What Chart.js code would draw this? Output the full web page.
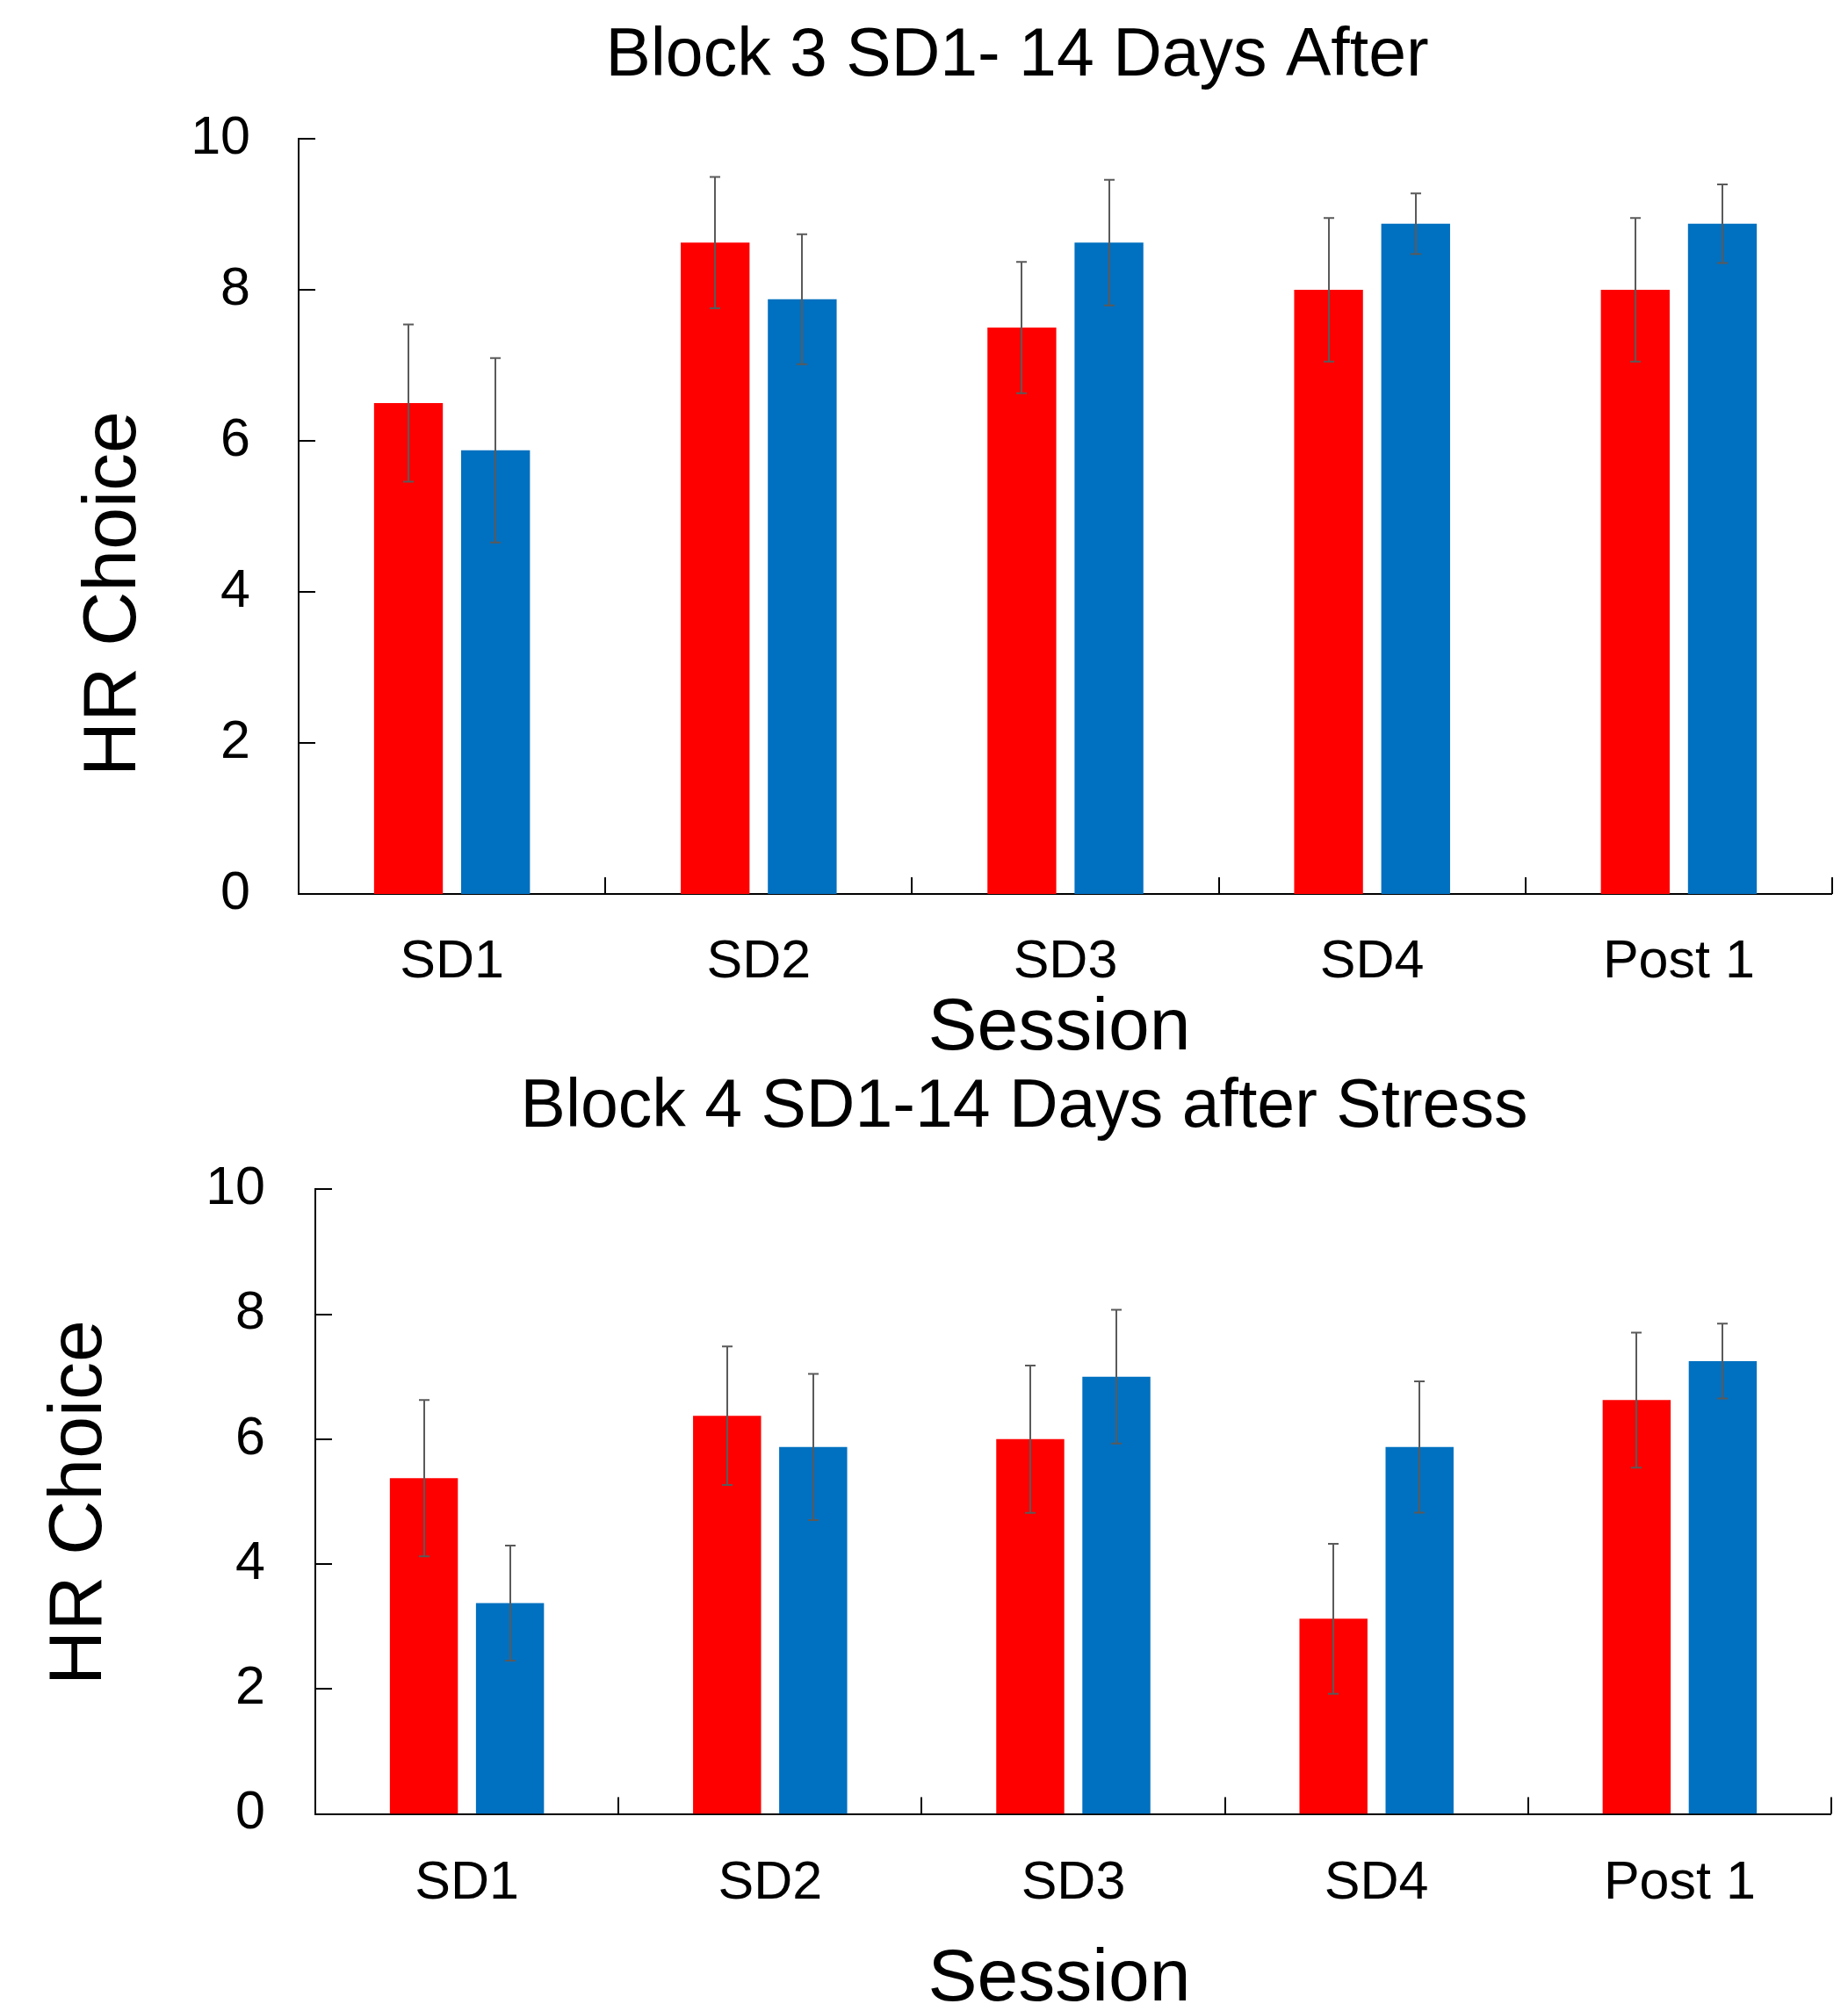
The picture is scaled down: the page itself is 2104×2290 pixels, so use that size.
<!DOCTYPE html>
<html>
<head>
<meta charset="utf-8">
<script src="https://cdn.jsdelivr.net/npm/chart.js@4.4.0/dist/chart.umd.min.js"></script>
<style>
html, body { margin: 0; padding: 0; background: #ffffff; }
#c1 { position: absolute; left: 0; top: 0; }
#c2 { position: absolute; left: 0; top: 1215px; }
</style>
</head>
<body>
<canvas id="c1" width="2104" height="1215"></canvas>
<canvas id="c2" width="2104" height="1075"></canvas>
<script>
// ---- data ----
const categories = ['SD1', 'SD2', 'SD3', 'SD4', 'Post 1'];
const yTickValues = [0, 2, 4, 6, 8, 10];

const block3Title = 'Block 3 SD1- 14 Days After';
const block3Red = [6.5, 8.625, 7.5, 8.0, 8.0];
const block3RedErr = [1.04, 0.87, 0.87, 0.95, 0.95];
const block3Blue = [5.875, 7.875, 8.625, 8.875, 8.875];
const block3BlueErr = [1.22, 0.86, 0.83, 0.40, 0.52];

const block4Title = 'Block 4 SD1-14 Days after Stress';
const block4Red = [5.375, 6.375, 6.0, 3.125, 6.625];
const block4RedErr = [1.25, 1.11, 1.18, 1.20, 1.08];
const block4Blue = [3.375, 5.875, 7.0, 5.875, 7.25];
const block4BlueErr = [0.92, 1.17, 1.07, 1.05, 0.60];

const xTitle = 'Session';
const yTitle = 'HR Choice';

// ---- style ----
const FONT = "'Liberation Sans', Arial, Helvetica, sans-serif";
const RED = '#FF0000';
const BLUE = '#0070C0';
Chart.defaults.font.family = FONT;
Chart.defaults.color = '#000000';

const errorBarPlugin = {
  id: 'errorBars',
  afterDatasetsDraw(chart, args, opts) {
    const ctx = chart.ctx;
    const y = chart.scales.y;
    chart.data.datasets.forEach((ds, di) => {
      const meta = chart.getDatasetMeta(di);
      meta.data.forEach((bar, i) => {
        const v = ds.data[i], e = ds.errors[i];
        const top = y.getPixelForValue(v + e);
        const bot = y.getPixelForValue(v - e);
        const bx = Math.round(bar.x);
        ctx.save();
        ctx.strokeStyle = opts.color;
        ctx.lineWidth = opts.width;
        ctx.beginPath();
        ctx.moveTo(bx, top); ctx.lineTo(bx, bot);
        ctx.moveTo(bx - opts.cap, top); ctx.lineTo(bx + opts.cap, top);
        ctx.moveTo(bx - opts.cap, bot); ctx.lineTo(bx + opts.cap, bot);
        ctx.stroke();
        ctx.restore();
      });
    });
  }
};

const innerTicksPlugin = {
  id: 'innerTicks',
  afterDraw(chart, args, opts) {
    const ctx = chart.ctx;
    const area = chart.chartArea;
    const x = chart.scales.x, y = chart.scales.y;
    ctx.save();
    ctx.strokeStyle = '#000000';
    ctx.lineWidth = opts.width;
    ctx.beginPath();
    y.ticks.forEach(t => {
      const py = Math.round(y.getPixelForValue(t.value));
      ctx.moveTo(area.left, py);
      ctx.lineTo(area.left + opts.length, py);
    });
    const n = x.ticks.length;
    const w = x.width / n;
    for (let i = 1; i <= n; i++) {
      const px = Math.round(x.left + i * w);
      ctx.moveTo(px, area.bottom);
      ctx.lineTo(px, area.bottom - opts.length);
    }
    ctx.stroke();
    ctx.restore();
  }
};

// axis titles drawn as canvas text
const axisTitlesPlugin = {
  id: 'axisTitles',
  afterDraw(chart, args, opts) {
    const ctx = chart.ctx;
    opts.items.forEach(it => {
      ctx.save();
      ctx.translate(it.x, it.y);
      if (it.rotate) ctx.rotate(-Math.PI / 2);
      ctx.font = it.size + 'px ' + FONT;
      ctx.fillStyle = '#000000';
      ctx.textAlign = 'center';
      ctx.textBaseline = 'middle';
      ctx.fillText(it.text, 0, 0);
      ctx.restore();
    });
  }
};

function makeChart(canvasId, title, red, redErr, blue, blueErr, L) {
  return new Chart(document.getElementById(canvasId), {
    type: 'bar',
    data: {
      labels: categories,
      datasets: [
        { data: red, errors: redErr, backgroundColor: RED, borderWidth: 0,
          categoryPercentage: 0.568, barPercentage: 0.79 },
        { data: blue, errors: blueErr, backgroundColor: BLUE, borderWidth: 0,
          categoryPercentage: 0.568, barPercentage: 0.79 }
      ]
    },
    options: {
      responsive: false,
      animation: false,
      devicePixelRatio: 1,
      layout: { padding: { left: L.padLeft, right: L.padRight, top: 0, bottom: 0 } },
      plugins: {
        legend: { display: false },
        tooltip: { enabled: false },
        title: {
          display: true, text: title, color: '#000000',
          font: { size: 77, weight: 'normal', lineHeight: 1.2, family: FONT },
          padding: { top: L.titleTop, bottom: L.titleBottom }
        },
        errorBars: { color: '#5A5A5A', width: 2, cap: 6 },
        innerTicks: { length: 19, width: 2 },
        axisTitles: { items: [
          { text: yTitle, size: 86, x: L.yTitleX, y: L.yTitleY, rotate: true },
          { text: xTitle, size: 84, x: L.xTitleX, y: L.xTitleY, rotate: false }
        ] }
      },
      scales: {
        x: {
          offset: true,
          grid: { display: true, drawOnChartArea: false, drawTicks: false, lineWidth: 0 },
          border: { display: true, color: '#000000', width: 2 },
          ticks: { color: '#000000', padding: L.xTickPad, font: { size: 61, lineHeight: 1.2 } },
          title: { display: false },
          afterFit(s) { s.height = L.xHeight; }
        },
        y: {
          min: 0, max: 10,
          afterBuildTicks(s) { s.ticks = yTickValues.map(v => ({ value: v })); },
          grid: { display: true, drawOnChartArea: false, drawTicks: false, lineWidth: 0 },
          border: { display: true, color: '#000000', width: 2 },
          ticks: { color: '#000000', padding: L.yTickPad, font: { size: 61, lineHeight: 1.2 } },
          afterFit(s) { s.width = L.yWidth; }
        },
        yRightSpace: {
          type: 'linear', position: 'right', display: true,
          grid: { display: false }, border: { display: false },
          ticks: { display: false },
          afterFit(s) { s.width = L.rightWidth; }
        }
      }
    },
    plugins: [errorBarPlugin, innerTicksPlugin, axisTitlesPlugin]
  });
}

makeChart('c1', block3Title, block3Red, block3RedErr, block3Blue, block3BlueErr, {
  padLeft: 215, padRight: 3, yWidth: 125, rightWidth: 15, xHeight: 197,
  titleTop: 18.3, titleBottom: 47.3, xTickPad: 41.4, yTickPad: 55,
  yTitleX: 130, yTitleY: 676, xTitleX: 1206, xTitleY: 1172
});

makeChart('c2', block4Title, block4Red, block4RedErr, block4Blue, block4BlueErr, {
  padLeft: 232, padRight: 4, yWidth: 127, rightWidth: 15, xHeight: 224.4,
  titleTop: 0.8, titleBottom: 46.1, xTickPad: 42.8, yTickPad: 57,
  yTitleX: 91, yTitleY: 496, xTitleX: 1206, xTitleY: 1040
});
</script>
</body>
</html>
